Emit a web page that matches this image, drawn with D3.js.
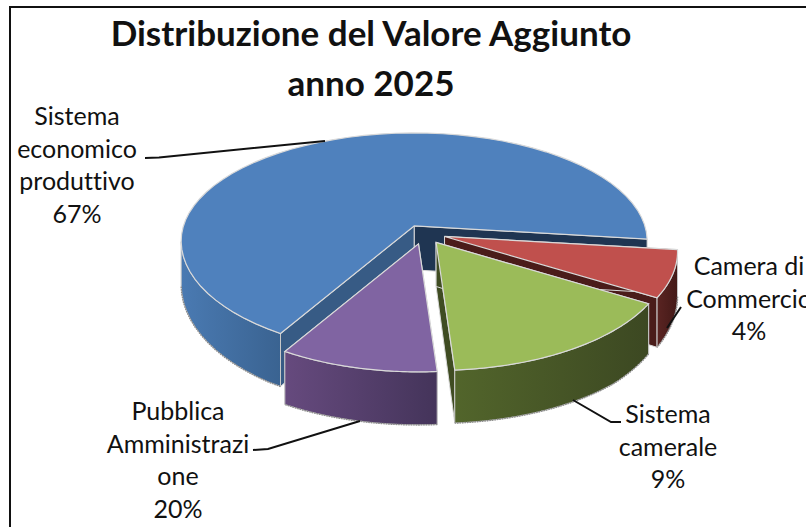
<!DOCTYPE html>
<html>
<head>
<meta charset="utf-8">
<script src="https://cdn.jsdelivr.net/npm/d3@7"></script>
<style>
  html, body { margin: 0; padding: 0; background: #fff; overflow: hidden; }
  text { font-family: Lato, "Open Sans", sans-serif; fill: #111; font-variant-ligatures: none; }
</style>
</head>
<body>
<div id="chart"></div>
<script>
const width = 806
const height = 527

// Data
const categories = ["Sistema economico produttivo", "Camera di Commercio", "Sistema camerale", "Pubblica Amministrazione"]
// percentuali scritte nelle etichette
const percentLabels = ["67%", "4%", "9%", "20%"]
// ampiezza delle fette come si vede nel disegno (non coincide con le etichette)
const sliceShares = [65, 7, 17, 11]
const titleLines = ["Distribuzione del Valore Aggiunto", "anno 2025"]
const labelLines = [
  ["Sistema", "economico", "produttivo"],
  ["Camera di", "Commercio"],
  ["Sistema", "camerale"],
  ["Pubblica", "Amministrazi", "one"],
]

// Colori
const topColors = ["#4f81bd", "#c0504d", "#9bbb59", "#8064a2"]
const cutColors = [["#1f3552", "#375b85"], ["#4a1c1a", "#4a1c1a"], ["#3f4c22", "#3f4c22"], ["#44345a", "#44345a"]]
const wallColors = [["#4a7ab2", "#3a6391"], ["#5a2422", "#431917"], ["#52652b", "#3c4822"], ["#664a7e", "#44345a"]]

// Geometria del disco
const center = { x: 424, y: 234.5 }
const rx = 233
const ryBack = 108
const ryFront = 113   // la parte davanti sembra piu' grande per la prospettiva
const apexLift = 15   // e il vertice sta sopra il centro dell'ellisse
const explode = 0.09

const svg = d3.select("#chart")
  .append("svg")
  .attr("width", width)
  .attr("height", height)

svg.append("rect")
  .attr("x", 10).attr("y", 7)
  .attr("width", width).attr("height", height)
  .attr("fill", "#fff")
  .attr("stroke", "#111")
  .attr("stroke-width", 2)

const defs = svg.append("defs")
wallColors.forEach((c, i) => {
  const grad = defs.append("linearGradient").attr("id", `wall${i}`)
  grad.append("stop").attr("offset", "0%").attr("stop-color", c[0])
  grad.append("stop").attr("offset", "100%").attr("stop-color", c[1])
})

const pie = d3.pie()
  .sort(null)
  .startAngle(215 * Math.PI / 180)
  .endAngle((215 + 360) * Math.PI / 180)

const arcs = pie(sliceShares)
const line = d3.line()
const depth = d3.scaleLinear().domain([245, 330]).range([44, 53]).clamp(true)

// angolo del pie (0 = ore 12) -> punto sull'ellisse
function rimPoint(offset, a) {
  const c = Math.cos(a)
  return [offset.x + rx * Math.sin(a), offset.y + apexLift - (c > 0 ? ryBack : ryFront) * c]
}
const drop = p => [p[0], p[1] + depth(p[1])]

const slices = arcs.map((d, i) => {
  const mid = (d.startAngle + d.endAngle) / 2
  const offset = {
    x: center.x + rx * explode * Math.sin(mid),
    y: center.y - ryBack * explode * Math.cos(mid),
  }
  const steps = d3.range(0, 61).map(k => d.startAngle + (d.endAngle - d.startAngle) * k / 60)
  return {
    i,
    apex: [offset.x, offset.y],
    rim: steps.map(a => rimPoint(offset, a)),
    front: steps.filter(a => Math.cos(a) <= 0).map(a => rimPoint(offset, a)),
  }
})

const sliceGroup = svg.append("g").attr("id", "sliceGroup")
const edge = "#d9d9d9"

// blu, rosso, verde, viola: ognuna copre la precedente
slices.forEach(s => {
  const g = sliceGroup.append("g").attr("class", "slice")
  const first = s.rim[0]
  const last = s.rim[s.rim.length - 1]

  // pareti di taglio
  ;[[last, 0], [first, 1]].forEach(([p, k]) => {
    g.append("path")
      .attr("d", line([s.apex, p, drop(p), drop(s.apex)]) + "Z")
      .attr("fill", cutColors[s.i][k])
      .attr("stroke", edge).attr("stroke-width", 1)
  })

  // parete esterna, solo la parte davanti
  g.append("path")
    .attr("d", line(s.front.concat(s.front.map(drop).reverse())) + "Z")
    .attr("fill", `url(#wall${s.i})`)
    .attr("stroke", "#c8c8c8").attr("stroke-width", 1)

  // bordo inferiore puntinato
  g.append("path")
    .attr("d", line(s.front.map(drop)))
    .attr("fill", "none")
    .attr("stroke", "#8c8c8c")
    .attr("stroke-width", 1.5)
    .attr("stroke-dasharray", "1.5 1")

  // faccia superiore
  g.append("path")
    .attr("d", line([s.apex].concat(s.rim)) + "Z")
    .attr("fill", topColors[s.i])
    .attr("stroke", edge).attr("stroke-width", 1.2)
})

// Linee guida
const leaders = [
  [[145, 158], [159, 157.5], [325, 141]],
  [[681, 307], [667, 328]],
  [[621, 422], [611, 422], [573, 400]],
  [[253, 450], [268, 449], [360, 421]],
]
svg.append("g").attr("id", "leaderGroup")
  .selectAll("path")
  .data(leaders)
  .join("path")
  .attr("d", d => line(d))
  .attr("fill", "none")
  .attr("stroke", "#111")
  .attr("stroke-width", 2)

// Titolo
svg.append("g").attr("id", "titleGroup")
  .selectAll("text")
  .data(titleLines)
  .join("text")
  .attr("x", 371)
  .attr("y", (d, i) => 46 + i * 50)
  .attr("text-anchor", "middle")
  .attr("font-size", 35)
  .attr("font-weight", 700)
  .text(d => d)

// Etichette
const labelPos = [
  { x: 77, y: 125 },
  { x: 749, y: 275 },
  { x: 668, y: 423 },
  { x: 178, y: 420 },
]
const lineHeight = 32.5
const labelGroup = svg.append("g").attr("id", "labelGroup")
labelLines.forEach((lines, i) => {
  lines.concat(percentLabels[i]).forEach((t, k) => {
    labelGroup.append("text")
      .attr("x", labelPos[i].x)
      .attr("y", labelPos[i].y + k * lineHeight)
      .attr("text-anchor", "middle")
      .attr("font-size", 25)
      .text(t)
  })
})
</script>
</body>
</html>
